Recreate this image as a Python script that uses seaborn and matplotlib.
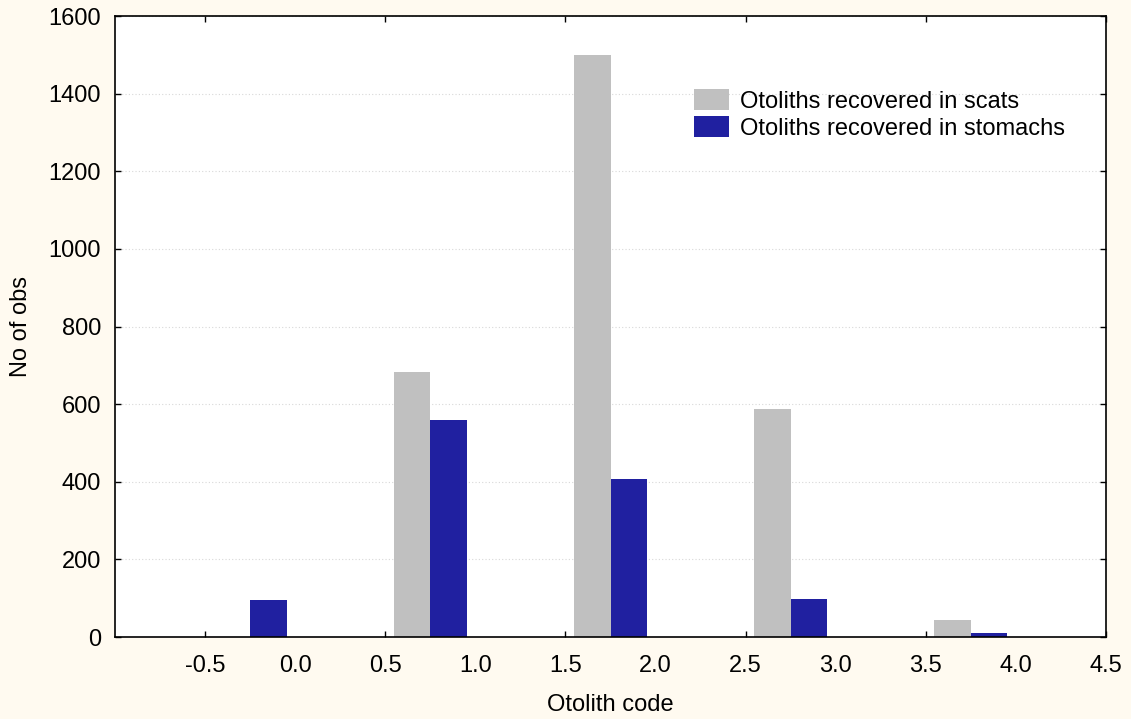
import matplotlib
matplotlib.use("Agg")
import matplotlib.pyplot as plt
import numpy as np
import pandas as pd
import seaborn as sns

# Otolith codes and counts per source
codes = [0, 1, 2, 3, 4]
scats = [0, 683, 1500, 588, 44]
stomachs = [95, 559, 407, 98, 10]
series_names = ["Otoliths recovered in scats", "Otoliths recovered in stomachs"]
series_colors = ["#C0C0C0", "#2020A0"]

y_ticks = [0, 200, 400, 600, 800, 1000, 1200, 1400, 1600]
x_edge_ticks = [-0.5, 0.5, 1.5, 2.5, 3.5, 4.5]
x_mid_ticks = [0.0, 1.0, 2.0, 3.0, 4.0]

sns.set_style("ticks")
plt.rcParams["font.family"] = ["Liberation Sans", "DejaVu Sans"]
plt.rcParams["font.size"] = 17
plt.rcParams["text.color"] = "black"
plt.rcParams["axes.labelcolor"] = "black"

df = pd.DataFrame({
    "code": codes * 2,
    "count": scats + stomachs,
    "source": [series_names[0]] * len(codes) + [series_names[1]] * len(codes),
})
# bar groups sit just left of each code value
df["pos"] = df["code"] - 0.25

bg = "#FFFAF0"
fig = plt.figure(figsize=(11.31, 7.19), dpi=100, facecolor=bg)
ax = fig.add_axes([0.1017, 0.114, 0.8762, 0.8637])
ax.set_facecolor("white")

sns.barplot(
    data=df, x="pos", y="count", hue="source", hue_order=series_names,
    palette=series_colors, native_scale=True, width=0.405, gap=0,
    saturation=1, edgecolor="none", linewidth=0, ax=ax, legend=True,
)

ax.set_xlim(-1.0, 4.5)
ax.set_ylim(0, 1600)
ax.set_yticks(y_ticks)
ax.set_yticklabels([str(v) for v in y_ticks])
ax.set_xticks(x_edge_ticks)
ax.set_xticklabels([f"{v:.1f}" for v in x_edge_ticks])
ax.set_xticks(x_mid_ticks, minor=True)
ax.set_xticklabels([f"{v:.1f}" for v in x_mid_ticks], minor=True)

ax.tick_params(axis="both", which="major", direction="in", length=4, width=1,
               labelsize=17, colors="black", labelcolor="black",
               top=True, right=True)
ax.tick_params(axis="x", which="major", pad=13)
ax.tick_params(axis="x", which="minor", length=0, pad=13, labelsize=17,
               labelcolor="black")
ax.tick_params(axis="y", which="major", pad=10)

ax.yaxis.grid(True, linestyle=(0, (1, 2)), color="#D8D8D8", linewidth=0.8)
ax.set_axisbelow(True)
for s in ax.spines.values():
    s.set_color("black")
    s.set_linewidth(1.2)

ax.set_xlabel("Otolith code", fontsize=17, labelpad=12, color="black")
ax.set_ylabel("No of obs", fontsize=17, labelpad=12, color="black")

handles, labels = ax.get_legend_handles_labels()
ax.legend(handles, labels, loc="upper left", bbox_to_anchor=(0.5745, 0.897),
          frameon=False, fontsize=17, handlelength=1.5, handleheight=0.95,
          labelspacing=0.15, handletextpad=0.45, borderaxespad=0)

fig.savefig("out.png", dpi=100, facecolor=bg)
